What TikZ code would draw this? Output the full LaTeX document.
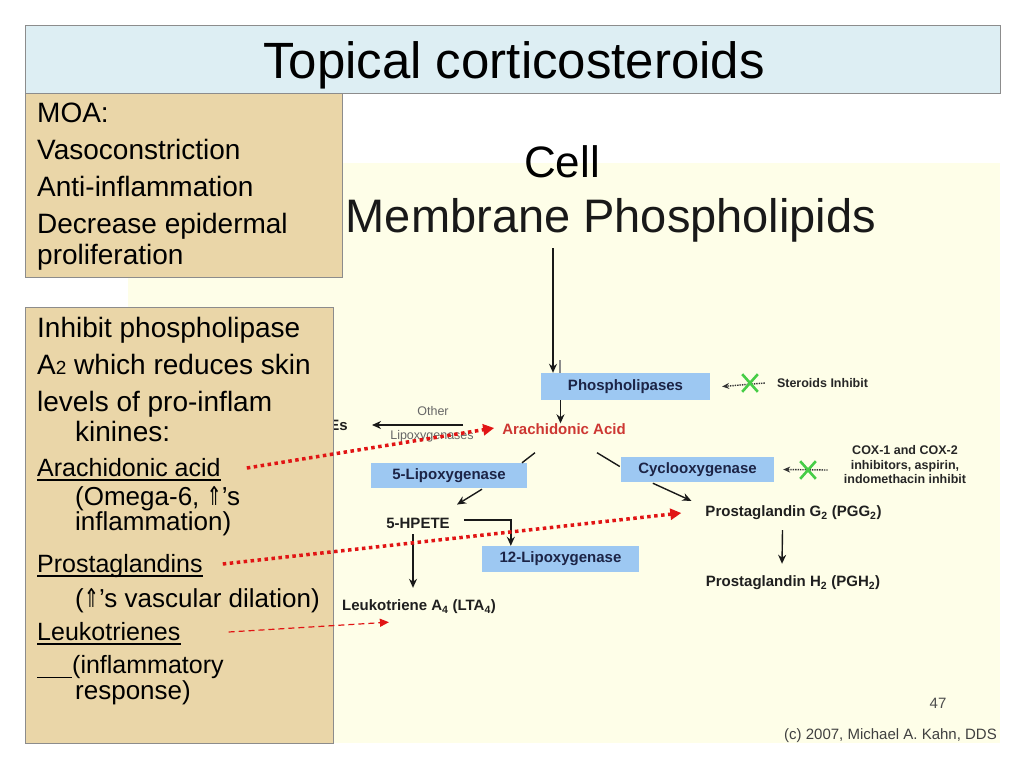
\documentclass[tikz,border=0pt]{standalone}
\usepackage{fontspec}
\setmainfont{Liberation Sans}
\newfontfamily\dejavu{DejaVu Sans}
\usetikzlibrary{arrows.meta,calc,shapes.misc}
\newcommand\fsz[1]{\fontsize{#1}{#1}\selectfont}
\newcommand\upar{\scalebox{0.7}[1]{\dejavu ⇑}}
\definecolor{cream}{RGB}{254,254,232}
\definecolor{tanbox}{RGB}{234,214,168}
\definecolor{titlebox}{RGB}{221,238,243}
\definecolor{boxgray}{RGB}{140,140,140}
\definecolor{boxblue}{RGB}{157,200,242}
\definecolor{navy}{RGB}{28,36,70}
\definecolor{redc}{RGB}{225,20,20}
\definecolor{xgreen}{RGB}{70,205,70}
\definecolor{aared}{RGB}{205,55,50}
\begin{document}
\begin{tikzpicture}[x=1pt,y=-1pt,
  lbl/.style={inner sep=0pt, font=\fsz{15}\bfseries, text=black!88},
  bluebox/.style={fill=boxblue, inner sep=0pt, font=\fsz{15}\bfseries, text=navy},
  arr/.style={draw=black!90, line width=1.4pt, -{Stealth[length=9pt,width=8pt]}},
  plain/.style={draw=black!90, line width=1.4pt},
  inh/.style={draw=black!80, densely dotted, line width=1.4pt, -{Stealth[length=7pt,width=6pt]}},
  gx/.style={cross out, draw=xgreen, line width=2.6pt, minimum width=13pt, minimum height=15pt, inner sep=0pt},
  reddot/.style={draw=redc, line width=3.5pt, dash pattern=on 3.5pt off 3.5pt, -{Triangle[length=11pt,width=11pt]}},
  reddash/.style={draw=redc, line width=1.2pt, dash pattern=on 6pt off 4pt, -{Triangle[length=9pt,width=8pt]}},
  slide/.style={inner sep=0pt, anchor=base west, font=\fsz{28}},
  slidesm/.style={inner sep=0pt, anchor=base west, font=\fsz{25}},
  slidesub/.style={inner sep=0pt, anchor=base west, font=\fsz{26}},
  panel/.style={draw=boxgray, line width=0.8pt, anchor=north west, inner sep=0pt},
  ul/.style={line width=1.5pt}
]
\useasboundingbox (0,0) rectangle (1024,768);
\fill[white] (0,0) rectangle (1024,768);
\fill[cream] (128,163) rectangle (1000,743);

% ---- pathway image ----
\node[inner sep=0pt, anchor=base, font=\fsz{47}, text=black!90] (mp) at (611,232) {Membrane Phospholipids};
\node[bluebox, minimum width=169pt, minimum height=27pt] (pl) at (625.5,386.5) {Phospholipases};
\node[inner sep=0pt, font=\fsz{15}\bfseries, text=aared] (aa) at (564,429) {Arachidonic Acid};
\coordinate (mpfoot) at (553,248);
\draw[arr] (mpfoot) -- (mpfoot |- pl.north);
\draw[draw=black!45, line width=1.6pt] ($(pl.north west)+(19,0)$) -- ++(0,-13);
\coordinate (plfoot) at ($(pl.south)+(-65,0)$);
\draw[arr] (plfoot) -- (plfoot |- aa.north);

\node[lbl, anchor=east] (es) at (348,425) {Es};
\node[inner sep=0pt, font=\fsz{12.5}, text=black!60] (oth) at (433,411) {Other};
\node[inner sep=0pt, font=\fsz{12.5}, text=black!60] (lipx) at (432,436) {Lipoxygenases};
\coordinate (otherR) at (463,425);
\draw[arr] (otherR) -- ($(es.east)+(24,0)$);

\node[bluebox, minimum width=156pt, minimum height=25pt] (lox5) at (449,475.5) {5-Lipoxygenase};
\node[bluebox, minimum width=153pt, minimum height=25pt] (cox) at (697.5,469.5) {Cyclooxygenase};
\draw[plain] ($(aa.south)+(-29,18)$) -- ($(lox5.north)+(73,0)$);
\draw[plain] ($(aa.south)+(33,18)$) -- ($(cox.west)+(-1,-3)$);

\node[lbl] (hpete) at (418,523) {5-HPETE};
\node[bluebox, minimum width=157pt, minimum height=26pt] (lox12) at (560.5,559) {12-Lipoxygenase};
\node[lbl] (lta) at (419,607) {Leukotriene A\textsubscript{4} (LTA\textsubscript{4})};
\draw[arr] ($(lox5.south)+(33,1)$) -- ($(hpete.north)+(39,-13)$);
\draw[arr] ($(hpete.east)+(14,-3)$) -| ($(lox12.north west)+(29,0)$);
\draw[arr] ($(hpete.south)+(-5,6)$) -- ($(lta.north)+(-6,-12)$);

\node[lbl] (pgg) at (793.5,513) {Prostaglandin G\textsubscript{2} (PGG\textsubscript{2})};
\node[lbl] (pgh) at (793,583) {Prostaglandin H\textsubscript{2} (PGH\textsubscript{2})};
\draw[arr] ($(cox.south west)+(32,1)$) -- ($(pgg.north west)+(-14,-5)$);
\draw[arr] ($(pgg.south)+(-11,10)$) -- ($(pgh.north)+(-11,-12)$);

\node[inner sep=0pt, font=\fsz{12.5}\bfseries, text=black!85] (ster) at (822.5,383) {Steroids Inhibit};
\draw[inh] ($(ster.west)+(-12,0)$) -- ($(pl.east)+(12,0)$);
\node[gx] (x1) at (750,383) {};
\node[inner sep=0pt, align=center, font=\fontsize{12.5}{14.5}\selectfont\bfseries, text=black!85] (coxinh) at (905,465) {COX-1 and COX-2\\inhibitors, aspirin,\\indomethacin inhibit};
\draw[inh] ($(coxinh.west)+(-16,5)$) -- ($(cox.east)+(9,0)$);
\node[gx] (x2) at (808,470) {};

\node[inner sep=0pt, font=\fsz{15}, text=black!70] (pgnum) at (938,703) {47};
\node[inner sep=0pt, anchor=base east, font=\fsz{15}, text=black!75] (copy) at (997,739) {(c) 2007, Michael A. Kahn, DDS};

% ---- slide overlay ----
\node[panel, fill=titlebox, minimum width=975pt, minimum height=68pt] (tbox) at (25,25) {};
\node[inner sep=0pt, anchor=base, font=\fsz{51}] (title) at (514,78) {Topical corticosteroids};
\node[inner sep=0pt, anchor=base, font=\fsz{44}] (cell) at (562,177) {Cell};

\node[panel, fill=tanbox, minimum width=317pt, minimum height=184pt] (moabox) at (25,93) {};
\node[slide] (m1) at (37,122) {MOA:};
\node[slide] (m2) at (37,159) {Vasoconstriction};
\node[slide] (m3) at (37,196) {Anti-inflammation};
\node[slide] (m4) at (37,233) {Decrease epidermal};
\node[slide] (m5) at (37,264) {proliferation};

\node[panel, fill=tanbox, minimum width=308pt, minimum height=436pt] (inbox) at (25,307) {};
\node[slide] (t1) at (37,337) {Inhibit phospholipase};
\node[slide] (t2) at (37,374) {A{\fsz{19}2} which reduces skin};
\node[slide] (t3) at (37,411) {levels of pro-inflam};
\node[slide] (t4) at (75,441) {kinines:};
\node[slidesm] (ara) at (37,476) {Arachidonic acid};
\node[slidesub] (t6) at (75,505) {(Omega-6, \upar's};
\node[slidesub] (t7) at (75,530) {inflammation)};
\node[slidesm] (pros) at (37,572) {Prostaglandins};
\node[slidesub] (t9) at (75,607) {(\upar's vascular dilation)};
\node[slidesm] (leuk) at (37,640) {Leukotrienes};
\node[slidesm] (t11) at (37,673) {\rule[-5pt]{35pt}{1.5pt}(inflammatory};
\node[slidesub] (t12) at (75,699) {response)};
\draw[ul] ($(ara.base west)+(0,4)$) -- ($(ara.base east)+(0,4)$);
\draw[ul] ($(pros.base west)+(0,4)$) -- ($(pros.base east)+(0,4)$);
\draw[ul] ($(leuk.base west)+(0,4)$) -- ($(leuk.base east)+(0,4)$);

% ---- red links ----
\draw[reddot] ($(ara.base east)+(26,-8)$) -- ($(aa.west)+(-8,-1)$);
\draw[reddot] ($(pros.base east)+(20,-8)$) -- ($(pgg.west)+(-24,0)$);
\draw[reddash] ($(leuk.base east)+(48,-8)$) -- ($(lta.south west)+(47,8)$);
\end{tikzpicture}
\end{document}
